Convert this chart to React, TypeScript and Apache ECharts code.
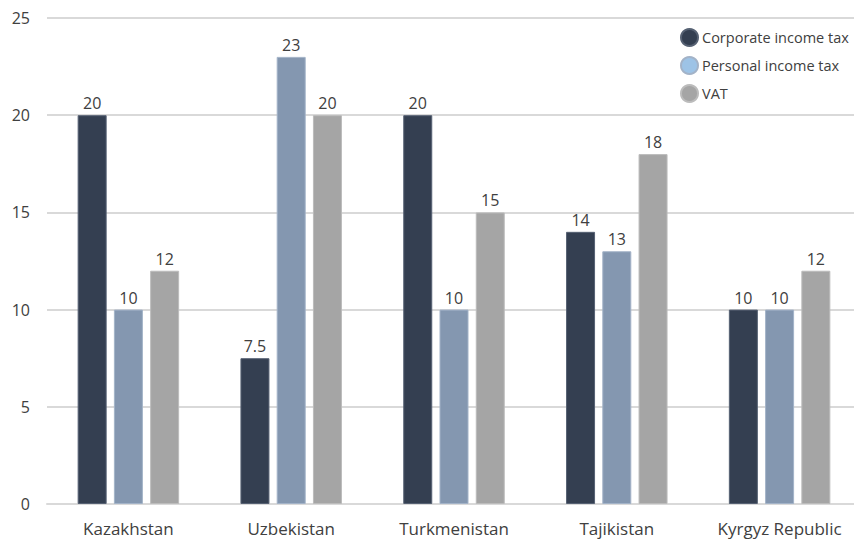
import React, { useEffect, useRef } from "react";
import * as echarts from "echarts";

const categories = ["Kazakhstan", "Uzbekistan", "Turkmenistan", "Tajikistan", "Kyrgyz Republic"];
const corporate = [20, 7.5, 20, 14, 10];
const personal = [10, 23, 10, 13, 10];
const vat = [12, 20, 15, 18, 12];
const seriesNames = ["Corporate income tax", "Personal income tax", "VAT"];
const yTicks = [0, 5, 10, 15, 20, 25];

export default function App() {
  const ref = useRef<HTMLDivElement>(null);
  useEffect(() => {
    if (!ref.current) return;
    const chart = echarts.init(ref.current, undefined, { renderer: "svg" });
    const font = "'Open Sans', 'Noto Sans', sans-serif";
    const label = {
      show: true,
      position: "top",
      distance: 4,
      color: "#404040",
      fontSize: 16,
      fontFamily: font,
    };
    chart.setOption({
      animation: false,
      grid: { left: 47, width: 814, top: 18, bottom: 39, containLabel: false, outerBoundsMode: "none" },
      legend: {
        orient: "vertical",
        left: 675,
        top: 23,
        itemWidth: 17,
        itemHeight: 17,
        itemGap: 9,
        icon: "circle",
        textStyle: { fontSize: 14.5, color: "#404040", fontFamily: font, padding: [0, 0, 0, -1] },
        data: [
          { name: seriesNames[0], itemStyle: { color: "#343f51" } },
          { name: seriesNames[1], itemStyle: { color: "#9dc3e6" } },
          { name: seriesNames[2], itemStyle: { color: "#a5a5a5" } },
        ],
      },
      xAxis: {
        type: "category",
        data: categories,
        axisTick: { show: false },
        axisLine: { lineStyle: { color: "#d9d9d9", width: 2 } },
        axisLabel: { color: "#404040", fontSize: 17, fontFamily: font, margin: 16 },
      },
      yAxis: {
        type: "value",
        min: yTicks[0],
        max: yTicks[yTicks.length - 1],
        interval: 5,
        axisLine: { show: false },
        axisTick: { show: false },
        splitLine: { lineStyle: { color: "#d9d9d9", width: 2 } },
        axisLabel: { color: "#404040", fontSize: 16, fontFamily: font, margin: 17 },
      },
      series: [
        {
          name: seriesNames[0],
          type: "bar",
          data: corporate,
          barWidth: 29,
          barGap: "25%",
          itemStyle: { color: "#343f51", borderColor: "#566173", borderWidth: 1 },
          label,
        },
        {
          name: seriesNames[1],
          type: "bar",
          data: personal,
          barWidth: 29,
          itemStyle: { color: "#8497b0", borderColor: "#a3b3c8", borderWidth: 1 },
          label,
        },
        {
          name: seriesNames[2],
          type: "bar",
          data: vat,
          barWidth: 29,
          itemStyle: { color: "#a5a5a5", borderColor: "#bcbcbc", borderWidth: 1 },
          label,
        },
      ],
    });
    return () => chart.dispose();
  }, []);
  return <div ref={ref} style={{ width: 854, height: 543, position: "absolute", left: 0, top: 0 }} />;
}
